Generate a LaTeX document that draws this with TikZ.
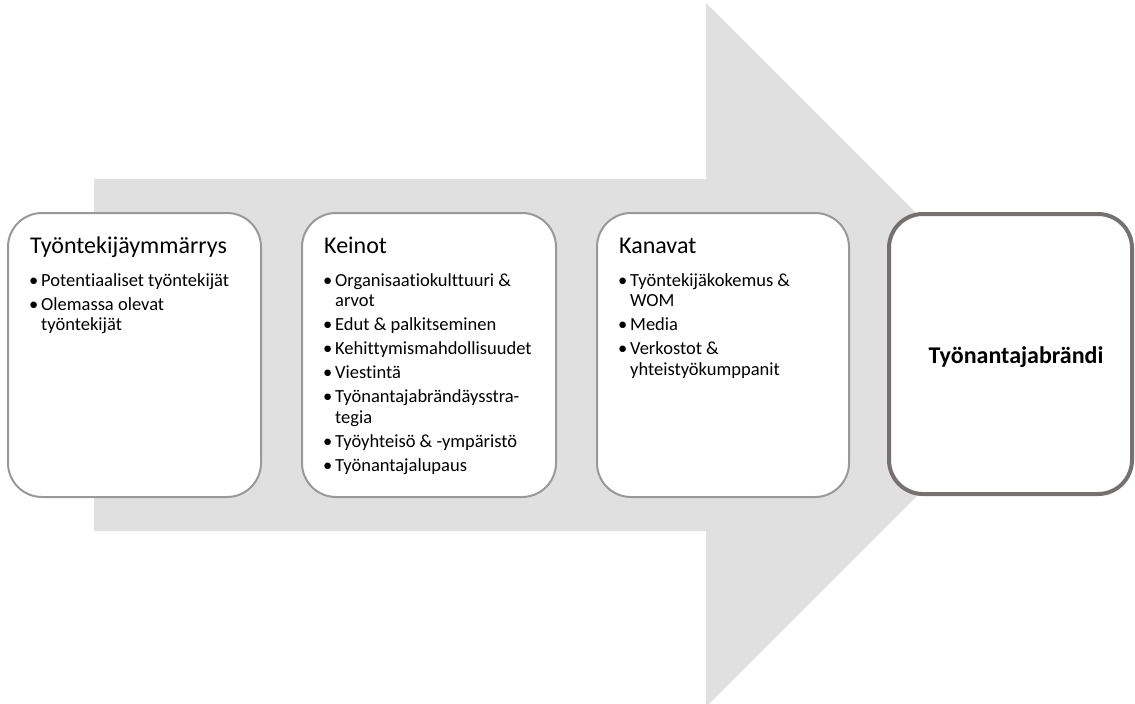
\documentclass[tikz,border=0pt]{standalone}
\usepackage{fontspec}
\setmainfont{Carlito}[Ligatures={NoCommon}]
\definecolor{arrowgrey}{HTML}{E0E0E0}
\definecolor{boxgrey}{HTML}{999999}
\definecolor{brandgrey}{HTML}{767171}
\newcommand{\bul}{\textbullet}
\begin{document}
\begin{tikzpicture}[x=1pt,y=-1pt,
  stagebox/.style={draw=boxgrey, line width=2pt, fill=white, rounded corners=34pt,
    rectangle, inner sep=0pt, outer sep=0pt, anchor=north west,
    minimum width=253pt, minimum height=284pt},
  brandbox/.style={draw=brandgrey, line width=4pt, fill=white, rounded corners=34pt,
    rectangle, inner sep=0pt, outer sep=0pt, anchor=north west,
    minimum width=243pt, minimum height=280pt},
  boxtitle/.style={anchor=base west, inner sep=0pt, font=\fontsize{24}{28}\selectfont},
  boxlist/.style={anchor=base west, inner sep=0pt, font=\fontsize{18.5}{20.5}\selectfont},
  brandtext/.style={inner sep=0pt, font=\fontsize{24}{28}\selectfont\bfseries}]
\useasboundingbox (0,0) rectangle (1135,704);

% big background arrow
\fill[arrowgrey] (94,179) -- (706,179) -- (706,3) -- (1058,355) -- (706,707)
  -- (706,531) -- (94,531) -- cycle;

% stage boxes
\node[stagebox] (b1) at (8,213) {};
\node[stagebox, minimum width=254pt] (b2) at (302,213) {};
\node[stagebox, minimum width=252pt] (b3) at (597,213) {};
\node[brandbox] (b4) at (889,214) {};

% box 1
\node[boxtitle] (t1) at (30,253) {Työntekijäymmärrys};
\node[boxlist] (l1) at (29,286) {%
  \begin{tabular}[t]{@{}p{12pt}@{}l@{}}
  \bul & Potentiaaliset työntekijät\\[3.5pt]
  \bul & Olemassa olevat\\
       & työntekijät
  \end{tabular}};

% box 2
\node[boxtitle] (t2) at (324,253) {Keinot};
\node[boxlist] (l2) at (323,286) {%
  \begin{tabular}[t]{@{}p{12pt}@{}l@{}}
  \bul & Organisaatiokulttuuri \&\\
       & arvot\\[3.5pt]
  \bul & Edut \& palkitseminen\\[3.5pt]
  \bul & Kehittymismahdollisuudet\\[3.5pt]
  \bul & Viestintä\\[3.5pt]
  \bul & Työnantajabrändäysstra-\\
       & tegia\\[3.5pt]
  \bul & Työyhteisö \& -ympäristö\\[3.5pt]
  \bul & Työnantajalupaus
  \end{tabular}};

% box 3
\node[boxtitle] (t3) at (619,253) {Kanavat};
\node[boxlist] (l3) at (618,286) {%
  \begin{tabular}[t]{@{}p{12pt}@{}l@{}}
  \bul & Työntekijäkokemus \&\\
       & WOM\\[3.5pt]
  \bul & Media\\[3.5pt]
  \bul & Verkostot \&\\
       & yhteistyökumppanit
  \end{tabular}};

% result box
\node[brandtext] (t4) at (1016,357) {Työnantajabrändi};
\end{tikzpicture}
\end{document}
